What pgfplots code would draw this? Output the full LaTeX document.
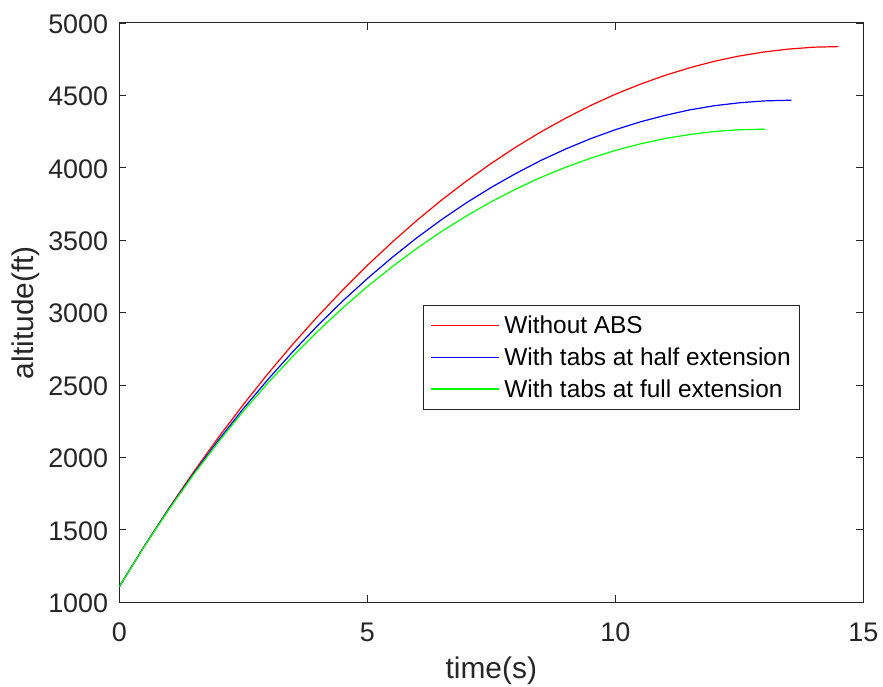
\documentclass[border=0pt]{standalone}
\usepackage{fontspec}
\setmainfont{Liberation Sans}
\usepackage{pgfplots}
\pgfplotsset{compat=1.18}
\definecolor{axgray}{rgb}{0.15,0.15,0.15}
\begin{document}
\begin{tikzpicture}
\useasboundingbox (0,0) rectangle (883bp,687bp);
\begin{axis}[
 at={(119.3bp,84.7bp)}, anchor=south west,
 scale only axis, width=744bp, height=579.3bp,
 xmin=0,xmax=15,ymin=1000,ymax=5000,
 xtick={0,5,10,15}, ytick={1000,1500,...,5000},
 scaled ticks=false,
 /pgf/number format/assume math mode=true,
 /pgf/number format/1000 sep={},
 tick align=inside, major tick length=7bp,
 axis line style={axgray, line width=1bp},
 every tick/.style={axgray, line width=0.9bp},
 ticklabel style={font=\fontsize{27}{32}\selectfont, text=axgray},
 xticklabel style={anchor=base, inner sep=0pt, yshift=-39.4bp},
 yticklabel style={anchor=base east, inner sep=0pt, xshift=-11bp, yshift=-10.3bp},
 xlabel={time(s)}, ylabel={altitude(ft)},
 label style={font=\fontsize{30}{36}\selectfont, text=axgray},
 xlabel style={at={(axis description cs:0.5,-0.1319)}, anchor=base},
 ylabel style={at={(axis description cs:-0.1153,0.5)}, anchor=base},
 legend style={at={(rel axis cs:0.4086,0.5132)}, anchor=north west,
   draw=axgray, fill=white, inner xsep=6.4bp, inner ysep=9bp,
   row sep=8.4bp, column sep=3bp,
   font=\fontsize{24.5}{29}\selectfont},
 legend cell align=left,
 legend image code/.code={\draw[line width=1.2bp,#1] (0bp,0bp) -- (68.3bp,0bp);},
]
\addplot[red, line width=1.2bp] coordinates {(0,1108) (0.5,1386) (1,1650) (1.5,1901) (2,2139) (2.5,2365) (3,2580) (3.5,2783) (4,2974) (4.5,3155) (5,3326) (5.5,3486) (6,3637) (6.5,3778) (7,3909) (7.5,4031) (8,4144) (8.5,4248) (9,4343) (9.5,4430) (10,4508) (10.5,4577) (11,4638) (11.5,4691) (12,4736) (12.5,4772) (13,4800) (13.5,4820) (14,4833) (14.5,4837)};
\addlegendentry{Without ABS}
\addplot[blue, line width=1.2bp] coordinates {(0,1108) (0.5,1385) (1,1645) (1.5,1890) (2,2120) (2.5,2337) (3,2540) (3.5,2731) (4,2911) (4.5,3079) (5,3235) (5.5,3381) (6,3517) (6.5,3643) (7,3759) (7.5,3865) (8,3962) (8.5,4051) (9,4130) (9.5,4201) (10,4263) (10.5,4317) (11,4362) (11.5,4400) (12,4429) (12.5,4449) (13,4462) (13.55,4467)};
\addlegendentry{With tabs at half extension}
\addplot[green, line width=1.2bp] coordinates {(0,1108) (0.5,1384) (1,1641) (1.5,1883) (2,2108) (2.5,2319) (3,2516) (3.5,2700) (4,2871) (4.5,3031) (5,3180) (5.5,3317) (6,3444) (6.5,3561) (7,3668) (7.5,3766) (8,3854) (8.5,3934) (9,4004) (9.5,4066) (10,4120) (10.5,4165) (11,4202) (11.5,4230) (12,4251) (12.5,4263) (13.02,4267)};
\addlegendentry{With tabs at full extension}
\end{axis}
\end{tikzpicture}
\end{document}
